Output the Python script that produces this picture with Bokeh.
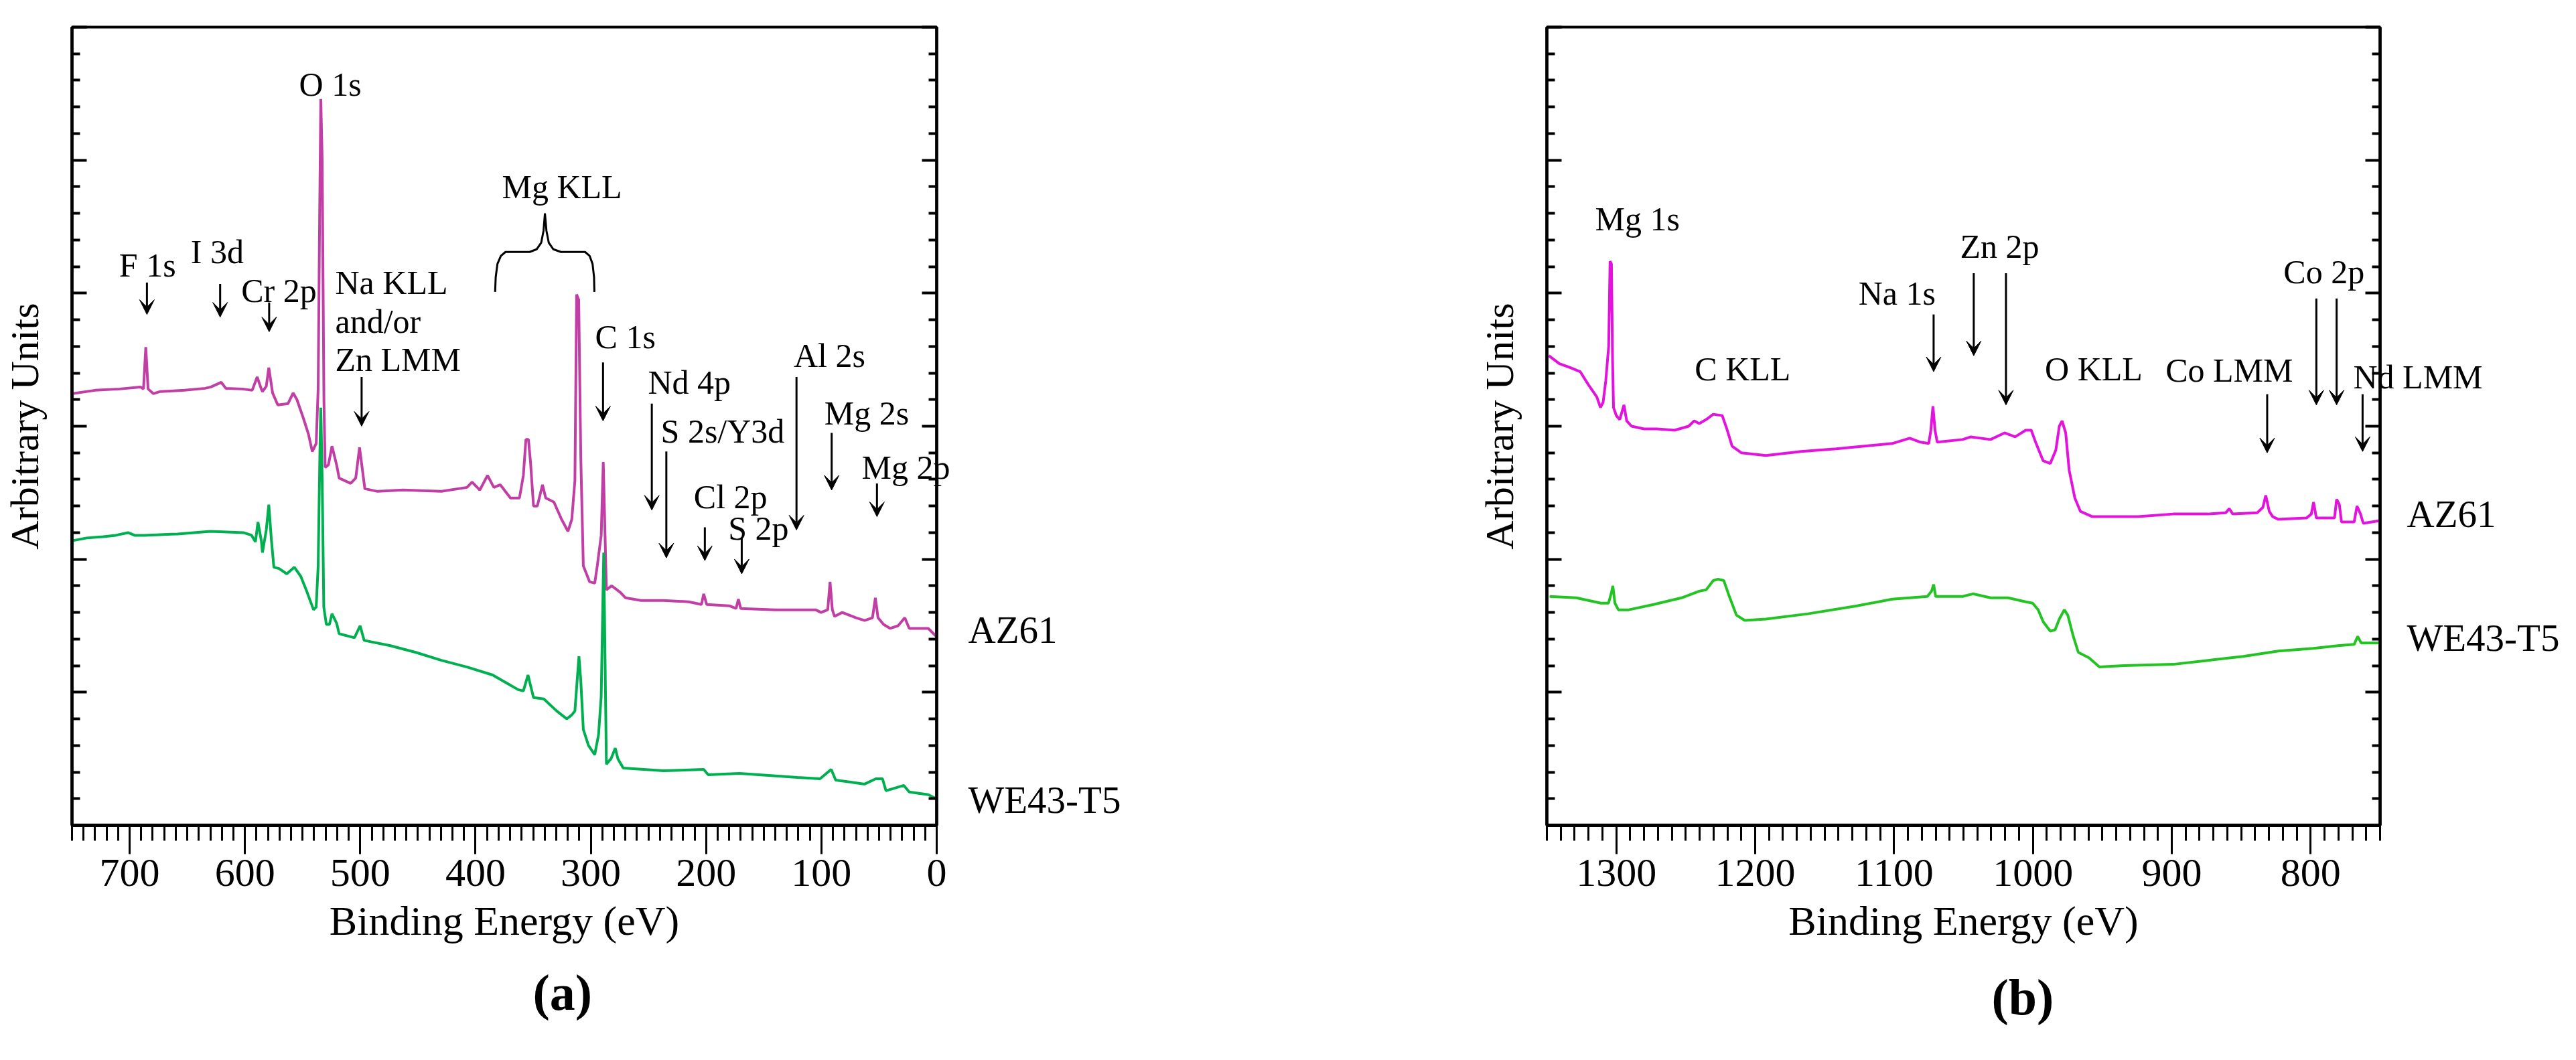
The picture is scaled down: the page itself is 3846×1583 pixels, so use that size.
from bokeh.plotting import figure
from bokeh.models import (Range1d, SingleIntervalTicker, FixedTicker, LinearAxis, Label, Arrow,
                          VeeHead, Title)
from bokeh.layouts import row
from bokeh.embed import file_html
from bokeh.resources import INLINE

FONT = "Liberation Serif"

# ---- (a) survey 750-0 eV ----
az61_a_be = [749.3, 730, 708.6, 690.7, 688, 686, 684, 679.5, 673.8, 652.4, 634.5, 629.5, 620.5, 616.6,
             602.3, 593.7, 589.4, 585.8, 584.8, 581.5, 579.3, 576, 571.5, 562.6, 558.2, 554.9, 549.3,
             544.9, 541.6, 538.2, 536.5, 535.2, 534.2, 533, 531.5, 530.4, 527.6, 524.5, 520.5, 518.3,
             508.3, 503.9, 500.6, 496, 485, 462.9, 429.6, 407.4, 403, 396.3, 389.6, 384.1, 378.5,
             369.7, 361.9, 358.5, 356.3, 354.1, 352.3, 349.7, 346.4, 341.9, 339.1, 332, 325.4, 319.8,
             316.5, 313.8, 312.3, 310.5, 308.7, 306.5, 301, 296.6, 294.4, 291, 289.2, 286.5, 282,
             278.8, 274.3, 269.9, 256.5, 237, 215, 204, 202.1, 199.5, 180, 174, 172, 170, 140, 105,
             100.3, 94.5, 92.5, 90.5, 88.6, 81.9, 70, 62.5, 55.7, 53.2, 50.9, 46.1, 40.3, 33.5, 27.7,
             23.8, 7.3, 0.4]
az61_a_int = [3.245, 3.27, 3.28, 3.295, 3.28, 3.595, 3.28, 3.245, 3.26, 3.27, 3.285, 3.295, 3.33, 3.285,
              3.28, 3.27, 3.37, 3.28, 3.26, 3.30, 3.44, 3.25, 3.16, 3.17, 3.25, 3.20, 3.06,
              2.94, 2.81, 2.87, 3.28, 4.60, 5.46, 5.00, 3.20, 2.69, 2.71, 2.85, 2.71, 2.61,
              2.57, 2.61, 2.84, 2.53, 2.51, 2.52, 2.51, 2.54, 2.58, 2.52, 2.63, 2.54, 2.56,
              2.46, 2.46, 2.63, 2.90, 2.90, 2.73, 2.40, 2.40, 2.56, 2.46, 2.43, 2.30, 2.21,
              2.30, 2.59, 3.99, 3.95, 2.77, 1.95, 1.83, 1.82, 1.95, 2.18, 2.73, 1.77, 1.80,
              1.78, 1.75, 1.71, 1.69, 1.69, 1.68, 1.66, 1.74, 1.66, 1.65, 1.63, 1.70, 1.63, 1.62, 1.62,
              1.60, 1.62, 1.83, 1.62, 1.57, 1.60, 1.56, 1.54, 1.56, 1.71, 1.56, 1.51, 1.48, 1.50, 1.56,
              1.48, 1.48, 1.42]

we43_a_be = [749.3, 737.2, 722.9, 712.1, 701.4, 695.7, 687.1, 658.5, 629.9, 601.3, 594.2, 590.9, 588.7,
             585.8, 584.8, 581.5, 579.3, 577, 574.9, 570.4, 563.7, 557.1, 551.5, 546, 540.5, 538.2,
             536.5, 535, 534.2, 533, 531.6, 529.4, 526.7, 524.5, 520.5, 518.3, 505, 500.1, 496.6,
             473.9, 451.8, 429.6, 407.4, 385.2, 363.1, 358.5, 354.5, 349.7, 340.8, 329.7, 320.8,
             316.5, 313.8, 310.3, 308.7, 306.5, 302, 296.6, 293.3, 291, 288.8, 286.5, 282.5, 278.8,
             276.5, 271.9, 237, 202.1, 198.2, 171.1, 120.7, 101.2, 91.5, 87.6, 62.5, 52.8, 47, 44,
             28.5, 23.8, 7.3, 0.4]
we43_a_int = [2.14, 2.16, 2.17, 2.18, 2.20, 2.18, 2.18, 2.19, 2.21, 2.20, 2.18, 2.13, 2.28,
              2.14, 2.05, 2.22, 2.41, 2.14, 1.94, 1.93, 1.89, 1.94, 1.87, 1.75, 1.62, 1.64,
              1.95, 2.80, 3.14, 2.60, 1.64, 1.51, 1.51, 1.59, 1.52, 1.44, 1.41, 1.50, 1.39,
              1.35, 1.30, 1.24, 1.19, 1.13, 1.02, 1.01, 1.13, 0.96, 0.95, 0.86, 0.80,
              0.83, 0.86, 1.27, 1.09, 0.72, 0.60, 0.53, 0.68, 0.97, 2.05, 0.46, 0.50, 0.58,
              0.50, 0.43, 0.41, 0.42, 0.38, 0.39, 0.36, 0.35, 0.42, 0.34, 0.31, 0.35, 0.35, 0.26,
              0.30, 0.25, 0.23, 0.20]

# ---- (b) 1350-750 eV ----
az61_b_be = [1348.6, 1341, 1333, 1326, 1320, 1314, 1311.4, 1309.5, 1307.6, 1305.5, 1304.5, 1303.5,
             1302.7, 1302, 1300, 1297.5, 1294.5, 1292.5, 1289, 1280, 1271, 1258, 1247.9, 1243.9,
             1240.3, 1235.3, 1230.2, 1223.7, 1220.1, 1216.6, 1210, 1192.3, 1167, 1141.7, 1121.5,
             1101.3, 1088.7, 1081.1, 1075, 1073.5, 1072, 1070.5, 1068.9, 1050.7, 1044.7, 1030.5,
             1020.4, 1012.8, 1005.2, 1001.2, 997.7, 992.6, 987.5, 983.5, 981, 979, 976.4, 973.9,
             969.8, 965.8, 957.2, 924.3, 899.1, 873.8, 861.1, 858.6, 856.1, 838.4, 834.4, 832.3,
             829.8, 827.3, 823.2, 803, 799.5, 797.9, 795.9, 782.8, 781.3, 779.3, 777.8, 768.7,
             766.6, 764.1, 762.1, 749.9]
az61_b_int = [3.53, 3.47, 3.44, 3.41, 3.31, 3.22, 3.14, 3.18, 3.34, 3.60, 4.24, 4.22,
              3.50, 3.14, 3.08, 3.05, 3.16, 3.04, 3.00, 2.98, 2.98, 2.97, 3.00, 3.04,
              3.02, 3.05, 3.09, 3.08, 2.97, 2.85, 2.80, 2.78, 2.81, 2.83, 2.85,
              2.87, 2.91, 2.88, 2.87, 2.97, 3.15, 2.97, 2.88, 2.90, 2.92, 2.90,
              2.95, 2.92, 2.97, 2.97, 2.87, 2.74, 2.72, 2.82, 3.00, 3.04, 2.95, 2.67,
              2.46, 2.36, 2.32, 2.32, 2.34, 2.34, 2.35, 2.38, 2.34, 2.35, 2.39, 2.48,
              2.36, 2.32, 2.30, 2.31, 2.34, 2.43, 2.31, 2.31, 2.45, 2.41, 2.28, 2.28,
              2.40, 2.34, 2.27, 2.29]

we43_b_be = [1348, 1328.8, 1311.1, 1305.6, 1303.5, 1302.5, 1301, 1298.5, 1290.9, 1273.2, 1253, 1245.4,
             1240.3, 1235.3, 1230.2, 1226.7, 1222.6, 1218.6, 1213.5, 1207.5, 1192.3, 1162, 1126.6,
             1101.3, 1076, 1073, 1071.5, 1070, 1050.7, 1043.2, 1030.5, 1017.9, 1005.2, 1000.2,
             996.2, 992.6, 987.5, 984, 981, 977.4, 974.9, 970.9, 967.3, 959.7, 952.1, 934.4,
             899.1, 873.8, 848.5, 823.2, 798, 780.3, 768.7, 766.1, 763.6, 749.9]
we43_b_int = [1.72, 1.71, 1.67, 1.67, 1.75, 1.80, 1.67, 1.62, 1.62, 1.66, 1.71, 1.74,
              1.76, 1.77, 1.84, 1.85, 1.84, 1.72, 1.58, 1.54, 1.55, 1.59, 1.65,
              1.70, 1.72, 1.76, 1.81, 1.72, 1.72, 1.74, 1.71, 1.71, 1.68, 1.67,
              1.62, 1.53, 1.46, 1.47, 1.55, 1.62, 1.58, 1.42, 1.30, 1.26, 1.19, 1.20,
              1.21, 1.24, 1.27, 1.31, 1.33, 1.35, 1.36, 1.42, 1.37, 1.37]

# peak labels inside the frame: text, x, y, align
peaks_a = [("O 1s", 526, 5.57, "center"), ("F 1s", 684.5, 4.21, "center"), ("I 3d", 624, 4.31, "center"),
           ("Cr 2p", 570.5, 4.02, "center"), ("Na KLL", 521.7, 4.08, "left"), ("and/or", 521.7, 3.79, "left"),
           ("Zn LMM", 521.7, 3.50, "left"), ("Mg KLL", 325, 4.80, "center"), ("C 1s", 270, 3.67, "center"),
           ("Nd 4p", 214.5, 3.33, "center"), ("S 2s/Y3d", 239.3, 2.96, "left"), ("Cl 2p", 178.8, 2.47, "center"),
           ("S 2p", 154.6, 2.23, "center"), ("Al 2s", 93, 3.53, "center"), ("Mg 2s", 60.7, 3.10, "center")]
# label crossing the right frame edge: text, y
edge_a = ("Mg 2p", 2.69)
# arrows: x, y_top, y_tip
arrows_a = [(685, 4.08, 3.84), (621.5, 4.07, 3.82), (579, 3.93, 3.71), (498.8, 3.37, 3.00),
            (289.4, 3.48, 3.04), (247.1, 3.17, 2.37), (234.5, 2.81, 2.01), (201.1, 2.24, 1.99),
            (169.1, 2.16, 1.89), (121.6, 3.37, 2.22), (91.1, 2.95, 2.52), (51.8, 2.57, 2.32)]
# Mg KLL brace
brace_x = [383, 382.5, 381, 378, 374, 353, 347, 343, 341, 339.8, 338.5, 336.5, 332.5, 326, 305, 301, 298.5, 297.2, 296.9]
brace_y = [4.01, 4.12, 4.22, 4.28, 4.31, 4.31, 4.33, 4.38, 4.47, 4.60, 4.47, 4.38, 4.33, 4.31, 4.31, 4.28, 4.22, 4.12, 4.01]

peaks_b = [("Mg 1s", 1284.8, 4.56, "center"), ("C KLL", 1209, 3.43, "center"), ("Na 1s", 1097.8, 4.00, "center"),
           ("Zn 2p", 1024, 4.35, "center"), ("O KLL", 956.2, 3.43, "center"), ("Co LMM", 858.6, 3.42, "center"),
           ("Co 2p", 790.4, 4.16, "center")]
edge_b = ("Nd LMM", 3.37)
arrows_b = [(1071.5, 3.84, 3.41), (1042.6, 4.15, 3.53), (1019.4, 4.15, 3.16), (831.3, 3.24, 2.80),
            (795.9, 3.96, 3.16), (781.3, 3.96, 3.16), (762.6, 3.24, 2.81)]

# series names at the right of each panel: name -> y
series_a = {"AZ61": 1.47, "WE43-T5": 0.19}
series_b = {"AZ61": 2.34, "WE43-T5": 1.41}

Y_MAJOR = list(range(0, 7))
Y_MINOR = [i / 5 for i in range(31) if i % 5]


def tick_axis(ax, ticks, length):
    ax.ticker = FixedTicker(ticks=[], minor_ticks=ticks)
    ax.minor_tick_in = length
    ax.minor_tick_out = 0
    ax.major_tick_in = 0
    ax.major_tick_out = 0
    ax.minor_tick_line_width = 4
    ax.axis_line_width = 4
    ax.major_label_standoff = 0


def text_axis(p, labels, size, standoff):
    ax = LinearAxis(ticker=FixedTicker(ticks=list(labels.values())),
                    major_label_overrides={v: k for k, v in labels.items()},
                    major_tick_in=0, major_tick_out=0, axis_line_color=None,
                    major_label_standoff=standoff, major_label_text_font=FONT,
                    major_label_text_font_size=size, major_label_text_color="black")
    p.add_layout(ax, "right")
    return ax


def make_panel(xr, width, left, top, fw, fh):
    p = figure(width=width, height=1567, x_range=Range1d(*xr), y_range=Range1d(0, 6),
               output_backend="svg", toolbar_location=None,
               min_border_left=left, min_border_top=top,
               min_border_right=width - left - fw, min_border_bottom=1567 - top - fh)
    p.xgrid.visible = False
    p.ygrid.visible = False
    p.outline_line_color = "black"
    p.outline_line_width = 4

    xa = p.xaxis[0]
    xa.ticker = SingleIntervalTicker(interval=100, num_minor_ticks=10)
    xa.major_tick_in = 0
    xa.major_tick_out = 43
    xa.minor_tick_in = 0
    xa.minor_tick_out = 23
    xa.major_tick_line_width = 3
    xa.minor_tick_line_width = 3
    xa.axis_line_width = 5
    xa.major_label_text_font = FONT
    xa.major_label_text_font_size = "60px"
    xa.major_label_text_color = "black"
    xa.major_label_standoff = 8
    xa.axis_label = "Binding Energy (eV)"
    xa.axis_label_text_font = FONT
    xa.axis_label_text_font_size = "62px"
    xa.axis_label_text_font_style = "normal"
    xa.axis_label_text_color = "black"
    xa.axis_label_standoff = 15

    # long (major) inward ticks, then short ones; no numbers on this axis
    tick_axis(p.yaxis[0], Y_MAJOR, 22)
    yl = LinearAxis()
    tick_axis(yl, Y_MINOR, 12)
    yl.axis_label = "Arbitrary Units"
    yl.axis_label_text_font = FONT
    yl.axis_label_text_font_size = "60px"
    yl.axis_label_text_font_style = "normal"
    yl.axis_label_text_color = "black"
    yl.axis_label_standoff = 38
    p.add_layout(yl, "left")

    r1 = LinearAxis()
    tick_axis(r1, Y_MAJOR, 22)
    p.add_layout(r1, "right")
    r2 = LinearAxis()
    tick_axis(r2, Y_MINOR, 12)
    p.add_layout(r2, "right")
    return p


def annotate(p, peaks, arrows):
    for txt, x, y, al in peaks:
        p.add_layout(Label(x=x, y=y, text=txt, text_align=al, text_baseline="middle",
                           text_font=FONT, text_font_size="50px", text_color="black"))
    for x, y0, y1 in arrows:
        p.add_layout(Arrow(x_start=x, y_start=y0, x_end=x, y_end=y1, line_width=3, line_color="black",
                           end=VeeHead(size=22, fill_color="black", line_color="black")))


def caption(p, letter, offset, standoff):
    p.add_layout(Title(text="(%s)" % letter, align="left", offset=offset, text_font=FONT,
                       text_font_size="76px", text_font_style="bold", text_color="black",
                       standoff=standoff), "below")


# panel (a)
pa = make_panel((750, 0), 1915, 107, 26, 1291, 1213)
pa.line(az61_a_be, az61_a_int, line_color="#c13fa5", line_width=4)
pa.line(we43_a_be, we43_a_int, line_color="#00b050", line_width=4)
pa.line(brace_x, brace_y, line_color="black", line_width=3)
annotate(pa, peaks_a, arrows_a)
text_axis(pa, {edge_a[0]: edge_a[1]}, "50px", -112)
text_axis(pa, series_a, "57px", 24)
caption(pa, "a", 688, 52)

# panel (b)
pb = make_panel((1350, 750), 1915, 394, 40, 1244, 1192)
pb.line(az61_b_be, az61_b_int, line_color="#e312dc", line_width=4)
pb.line(we43_b_be, we43_b_int, line_color="#22c322", line_width=4)
annotate(pb, peaks_b, arrows_b)
text_axis(pb, {edge_b[0]: edge_b[1]}, "50px", -40)
text_axis(pb, series_b, "57px", -116)
caption(pb, "b", 664, 66)

layout = row(pa, pb)
open("out.html", "w").write(file_html(layout, INLINE))
